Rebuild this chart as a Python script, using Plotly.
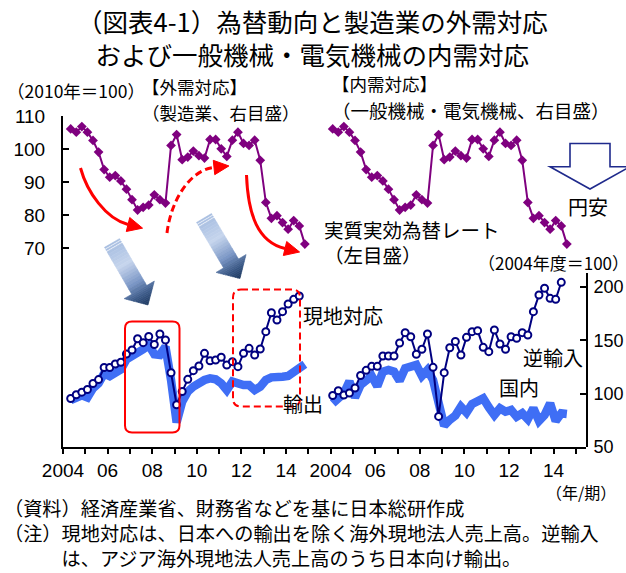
import math
import plotly.graph_objects as go

# ---------------- quarterly series, 2004Q1 onward ----------------
# real effective exchange rate (2010 = 100, left scale)
reer = [106.1, 105.1, 106.8, 105.1, 102.6, 99.1, 93.8, 91.5, 92.0, 90.4,
        87.9, 84.7, 81.6, 82.4, 83.1, 86.2, 84.7, 83.7, 101.1, 104.4,
        96.8, 97.6, 99.4, 98.0, 97.3, 102.9, 102.9, 100.1, 97.8, 102.7,
        105.1, 101.7, 101.1, 102.7, 96.6, 83.9, 79.1, 79.9, 77.8, 75.8,
        78.4, 76.8, 71.3]
# manufacturing: overseas affiliates' local sales / exports (FY2004 = 100, right scale)
local_sales = [95.5, 99.0, 101.4, 103.9, 109.5, 113.2, 124.5, 124.5, 127.8, 129.5,
               137.2, 140.9, 151.5, 147.8, 153.7, 146.1, 155.9, 150.3, 119.6, 89.6,
               102.0, 113.4, 121.6, 125.9, 137.8, 130.9, 131.6, 134.1, 126.9, 130.0,
               125.3, 137.8, 142.5, 136.3, 141.9, 158.1, 175.9, 169.1, 176.9, 184.1,
               188.4, 191.6]
exports = [94.1, 96.6, 98.5, 96.5, 105.0, 109.7, 119.0, 116.4, 119.2, 122.8,
           132.2, 134.7, 137.8, 141.6, 145.6, 136.9, 136.3, 144.0, 112.8, 73.0,
           92.5, 101.9, 106.6, 110.3, 112.8, 114.4, 113.4, 109.7, 103.4, 111.3,
           109.0, 108.1, 108.1, 103.4, 106.6, 112.8, 115.3, 116.6, 115.9, 116.6,
           120.6, 122.2, 127.5]
# general & electrical machinery: reverse imports / domestic shipments (right scale)
reimports = [98.3, 102.8, 98.8, 100.6, 105.3, 117.0, 121.9, 125.6, 125.6, 135.3,
             135.3, 135.3, 147.5, 157.2, 153.4, 137.0, 141.6, 155.9, 124.7, 78.7,
             119.7, 143.0, 149.0, 136.3, 152.8, 158.1, 159.1, 143.4, 139.4, 159.7,
             146.6, 141.6, 153.4, 151.9, 157.2, 155.0, 176.9, 192.5, 198.8, 189.4,
             188.4, 204.4]
domestic = [90.9, 95.6, 100.3, 111.5, 96.5, 108.1, 112.8, 116.6, 107.0, 120.6,
            122.2, 120.6, 112.2, 123.8, 125.3, 126.9, 116.6, 122.2, 112.8, 90.9,
            70.0, 75.5, 79.5, 87.8, 82.2, 90.3, 92.5, 95.6, 87.2, 80.0,
            86.3, 83.1, 84.7, 78.4, 81.6, 76.0, 86.3, 74.4, 80.0, 90.9,
            74.4, 81.6, 81.0]

year_labels = ["2004", "", "06", "", "08", "", "10", "", "12", "", "14", ""]
left_ticks = [10, 20, 30, 40, 50, 60, 70, 80, 90, 100, 110]
left_tick_text = ["", "", "", "", "", "", "70", "80", "90", "100", "110"]
right_ticks = [50, 100, 150, 200]

# ---------------- geometry ----------------
FIG_W, FIG_H = 626, 573
M_L, M_R, M_T, M_B = 63, 40, 116, 126
PLOT_W = FIG_W - M_L - M_R
PLOT_H = FIG_H - M_T - M_B
YEAR_PX = 22.3                      # one year on the shared x axis
X_MAX = PLOT_W / YEAR_PX
PANEL_SPAN = 12                     # each panel covers 12 year slots
LEFT_START, RIGHT_START = 0.345, PANEL_SPAN + 0.094
QUARTER = 0.25
Y2_TOP_PX = 273                     # right scale only spans the lower part
Y2_DOMAIN_TOP = (FIG_H - M_B - Y2_TOP_PX) / PLOT_H
Y2_MAX = 50 + (FIG_H - M_B - Y2_TOP_PX) / (160 / 150)

FONT_JP = "Noto Sans CJK JP"
FONT_NUM = "Liberation Sans"
PURPLE = "#7F007F"
NAVY = "#000080"
BLUE = "#3F6EF5"
RED = "#FF0000"


def xs(start, n):
    return [start + QUARTER * i for i in range(n)]


def P(x, y):
    """figure pixel -> paper coordinates"""
    return (x - M_L) / PLOT_W, (FIG_H - M_B - y) / PLOT_H


def path_of(points, close=True):
    parts = []
    for k, (x, y) in enumerate(points):
        px, py = P(x, y)
        parts.append(("M" if k == 0 else "L") + f"{px:.5f},{py:.5f}")
    return " ".join(parts) + (" Z" if close else "")


def cubic_path(p0, c1, c2, p3):
    a, b, c, d = (P(*p) for p in (p0, c1, c2, p3))
    return (f"M{a[0]:.5f},{a[1]:.5f} C{b[0]:.5f},{b[1]:.5f} "
            f"{c[0]:.5f},{c[1]:.5f} {d[0]:.5f},{d[1]:.5f}")


def head_points(base, frm, length, half_w):
    dx, dy = base[0] - frm[0], base[1] - frm[1]
    n = math.hypot(dx, dy)
    ux, uy = dx / n, dy / n
    px, py = -uy, ux
    tip = (base[0] + ux * length, base[1] + uy * length)
    return [(base[0] + px * half_w, base[1] + py * half_w), tip,
            (base[0] - px * half_w, base[1] - py * half_w)]


def rounded_rect(x0, y0, x1, y1, r):
    pts = {
        "a": P(x0 + r, y0), "b": P(x1 - r, y0), "c": P(x1, y0), "d": P(x1, y0 + r),
        "e": P(x1, y1 - r), "f": P(x1, y1), "g": P(x1 - r, y1), "h": P(x0 + r, y1),
        "i": P(x0, y1), "j": P(x0, y1 - r), "k": P(x0, y0 + r), "l": P(x0, y0),
    }
    f = lambda k: f"{pts[k][0]:.5f},{pts[k][1]:.5f}"
    return (f"M{f('a')} L{f('b')} Q{f('c')} {f('d')} L{f('e')} Q{f('f')} {f('g')} "
            f"L{f('h')} Q{f('i')} {f('j')} L{f('k')} Q{f('l')} {f('a')} Z")


def mix(stops, t):
    for (p0, c0), (p1, c1) in zip(stops, stops[1:]):
        if t <= p1:
            f = (t - p0) / (p1 - p0) if p1 > p0 else 0
            return "rgb(%d,%d,%d)" % tuple(round(a + (b - a) * f) for a, b in zip(c0, c1))
    return "rgb(%d,%d,%d)" % stops[-1][1]


ARROW_STOPS = [(0.0, (166, 189, 224)), (0.35, (198, 213, 237)),
               (0.65, (122, 150, 197)), (0.85, (58, 88, 134)), (1.0, (28, 55, 95))]


def gradient_arrow(tail, tip, shaft_w=17.4, head_w=35.0, head_len=17.5):
    dx, dy = tip[0] - tail[0], tip[1] - tail[1]
    L = math.hypot(dx, dy)
    ux, uy = dx / L, dy / L
    px, py = -uy, ux
    hb = L - head_len

    def half(t, in_head):
        return head_w / 2 * (L - t) / head_len if in_head else shaft_w / 2

    cuts = [(0.0, 1.3), (2.5, 3.8)]
    body = [5.0 + (hb - 5.0) * k / 16 for k in range(17)]
    cuts += list(zip(body[:-1], body[1:]))
    head = [hb + head_len * k / 10 for k in range(11)]
    cuts += list(zip(head[:-1], head[1:]))
    out = []
    for t0, t1 in cuts:
        in_head = t0 >= hb - 1e-9
        w0, w1 = half(t0, in_head), half(t1, in_head)
        c = lambda t, s, w: (tail[0] + ux * t + px * s * w, tail[1] + uy * t + py * s * w)
        poly = [c(t0, 1, w0), c(t1, 1, w1), c(t1, -1, w1), c(t0, -1, w0)]
        col = mix(ARROW_STOPS, (t0 + t1) / 2 / L)
        out.append(dict(type="path", xref="paper", yref="paper", path=path_of(poly),
                        fillcolor=col, line=dict(color=col, width=0.6), layer="above"))
    return out


# ---------------- traces ----------------
fig = go.Figure()

for start in (LEFT_START, RIGHT_START):
    fig.add_trace(go.Scatter(
        x=xs(start, len(reer)), y=reer, mode="lines+markers",
        line=dict(color=PURPLE, width=2),
        marker=dict(symbol="diamond", size=7.5, color=PURPLE),
        yaxis="y", hoverinfo="skip"))

fig.add_trace(go.Scatter(
    x=xs(LEFT_START, len(exports)), y=exports, mode="lines", yaxis="y2",
    line=dict(color=BLUE, width=8.5), hoverinfo="skip"))
fig.add_trace(go.Scatter(
    x=xs(RIGHT_START, len(domestic)), y=domestic, mode="lines", yaxis="y2",
    line=dict(color=BLUE, width=8.5), hoverinfo="skip"))

for start, series in ((LEFT_START, local_sales), (RIGHT_START, reimports)):
    fig.add_trace(go.Scatter(
        x=xs(start, len(series)), y=series, mode="lines+markers", yaxis="y2",
        line=dict(color=NAVY, width=2),
        marker=dict(symbol="circle", size=7, color="white",
                    line=dict(color=NAVY, width=2)),
        hoverinfo="skip"))

# ---------------- shapes ----------------
shapes = []
# red trend arrows over the exchange-rate line
curves = [
    ((80.5, 168), (87, 192), (106, 219), (128, 224.5), None),
    ((167, 233), (171, 200), (190, 170), (214, 167.5), "7px,4px"),
    ((246.5, 175), (248, 215), (258, 242), (285, 248.5), None),
]
for p0, c1, c2, p3, dash in curves:
    shapes.append(dict(type="path", xref="paper", yref="paper",
                       path=cubic_path(p0, c1, c2, p3),
                       line=dict(color=RED, width=3, dash=dash) if dash else
                       dict(color=RED, width=3), layer="above"))
    shapes.append(dict(type="path", xref="paper", yref="paper",
                       path=path_of(head_points(p3, c2, 15, 7.2)),
                       fillcolor=RED, line=dict(color=RED, width=1), layer="above"))

# highlight boxes
shapes.append(dict(type="path", xref="paper", yref="paper",
                   path=rounded_rect(125, 321.5, 179.5, 432.5, 7),
                   line=dict(color=RED, width=2), layer="above"))
shapes.append(dict(type="path", xref="paper", yref="paper",
                   path=rounded_rect(233, 289.5, 300, 406.5, 8),
                   line=dict(color=RED, width=2, dash="7px,4px"), layer="above"))

# shaded downward arrows
shapes += gradient_arrow((112, 243), (148, 305))
shapes += gradient_arrow((204, 218), (240, 278.5))

# hollow "weak yen" arrow
shapes.append(dict(type="path", xref="paper", yref="paper",
                   path=path_of([(570, 143.5), (610, 143.5), (610, 166.7), (630, 166.7),
                                 (590, 189), (550, 166.7), (570, 166.7)]),
                   fillcolor="white", line=dict(color="#1F2A8C", width=1.6),
                   layer="above"))

# ---------------- text ----------------
labels = [
    ("（図表4-1）為替動向と製造業の外需対応<br>および一般機械・電気機械の内需対応",
     312, 37.5, "center", 25.5),
    ("（2010年＝100）", 6, 90, "left", 17.5),
    ("【外需対応】", 141, 87, "left", 17.5),
    ("（製造業、右目盛）", 141, 112, "left", 17.5),
    ("【内需対応】", 331, 84, "left", 17.5),
    ("（一般機械・電気機械、右目盛）", 331, 110, "left", 18.5),
    ("実質実効為替レート<br>（左目盛）", 323, 242, "left", 19.5),
    ("円安", 588, 206, "center", 20),
    ("（2004年度＝100）", 477, 262, "left", 17),
    ("現地対応", 302, 315, "left", 20),
    ("輸出", 282, 403, "left", 20),
    ("逆輸入", 522, 357, "left", 20),
    ("国内", 498, 387, "left", 20),
    ("（年/期）", 545, 492, "left", 16),
    ("（資料）経済産業省、財務省などを基に日本総研作成<br>"
     "（注）現地対応は、日本への輸出を除く海外現地法人売上高。逆輸入<br>"
     "　　　は、アジア海外現地法人売上高のうち日本向け輸出。",
     3, 533, "left", 19.2),
]
annotations = []
for text, x, y, anchor, size in labels:
    px, py = P(x, y)
    annotations.append(dict(text=text, x=px, y=py, xref="paper", yref="paper",
                            xanchor=anchor, yanchor="middle", align=anchor,
                            showarrow=False, borderpad=0,
                            font=dict(family=FONT_JP, size=size, color="black")))

# ---------------- axes ----------------
fig.update_layout(
    width=FIG_W, height=FIG_H,
    margin=dict(l=M_L, r=M_R, t=M_T, b=M_B, pad=0, autoexpand=False),
    paper_bgcolor="white", plot_bgcolor="white", showlegend=False,
    font=dict(family=FONT_JP, color="black"),
    xaxis=dict(range=[0, X_MAX], tickmode="array", automargin=False,
               tickvals=list(range(2 * PANEL_SPAN)), ticktext=year_labels * 2,
               ticks="outside", ticklen=5, tickwidth=2, tickcolor="black",
               showline=True, linewidth=2, linecolor="black",
               showgrid=False, zeroline=False, anchor="y",
               tickfont=dict(family=FONT_NUM, size=19, color="black")),
    yaxis=dict(range=[10, 110], domain=[0, 1], tickmode="array", automargin=False,
               tickvals=left_ticks, ticktext=left_tick_text,
               ticks="inside", ticklen=6, tickwidth=2, tickcolor="black",
               showline=True, linewidth=2, linecolor="black",
               showgrid=False, zeroline=False, ticklabelstandoff=12,
               tickfont=dict(family=FONT_NUM, size=19, color="black")),
    yaxis2=dict(range=[50, Y2_MAX], domain=[0, Y2_DOMAIN_TOP], anchor="x",
                side="right", tickmode="array", tickvals=right_ticks, automargin=False,
                ticks="inside", ticklen=6, tickwidth=2, tickcolor="black",
                showline=True, linewidth=2, linecolor="black",
                showgrid=False, zeroline=False, ticklabelstandoff=2,
                tickfont=dict(family=FONT_NUM, size=18, color="black")),
    shapes=shapes,
    annotations=annotations,
)

fig.write_html("out.html")
